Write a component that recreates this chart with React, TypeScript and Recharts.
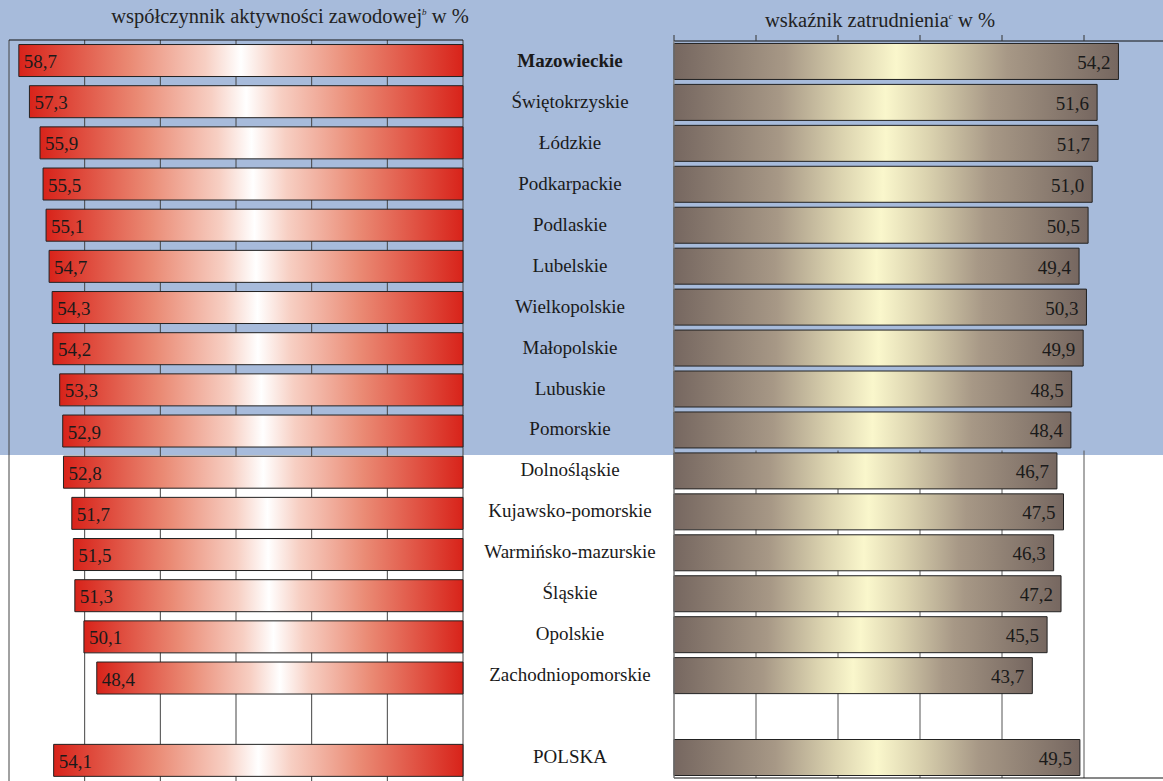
import { BarChart, Bar, XAxis, YAxis, CartesianGrid, LabelList, ReferenceArea } from 'recharts';

const regions = [
  'Mazowieckie',
  'Świętokrzyskie',
  'Łódzkie',
  'Podkarpackie',
  'Podlaskie',
  'Lubelskie',
  'Wielkopolskie',
  'Małopolskie',
  'Lubuskie',
  'Pomorskie',
  'Dolnośląskie',
  'Kujawsko-pomorskie',
  'Warmińsko-mazurskie',
  'Śląskie',
  'Opolskie',
  'Zachodniopomorskie',
  ' ',
  'POLSKA',
];

const activityRate = [58.7, 57.3, 55.9, 55.5, 55.1, 54.7, 54.3, 54.2, 53.3, 52.9, 52.8, 51.7, 51.5, 51.3, 50.1, 48.4, null, 54.1];
const employmentRate = [54.2, 51.6, 51.7, 51.0, 50.5, 49.4, 50.3, 49.9, 48.5, 48.4, 46.7, 47.5, 46.3, 47.2, 45.5, 43.7, null, 49.5];

const xTicks = [0, 10, 20, 30, 40, 50, 60];

const rows = regions.map((region, i) => ({
  region,
  activity: activityRate[i],
  employment: employmentRate[i],
}));

const BLUE = '#a7bbdb';
const FONT = "'Liberation Serif'";

const fmt = (v: number) => v.toFixed(1).replace('.', ',');

const NoTick = () => <g />;

const LeftValue = (props: any) => {
  const { x, y, width, height, value } = props;
  if (value == null) return null;
  const left = Math.min(x, x + width);
  return (
    <text x={left + 5} y={y + height / 2 + 1} dominantBaseline="central" fontSize={19} style={{ fontFamily: FONT }} fill="#1a1a1a">
      {fmt(value)}
    </text>
  );
};

const RightValue = (props: any) => {
  const { x, y, width, height, value } = props;
  if (value == null) return null;
  const right = Math.max(x, x + width);
  return (
    <text x={right - 8} y={y + height / 2 + 1} textAnchor="end" dominantBaseline="central" fontSize={19} style={{ fontFamily: FONT }} fill="#1a1a1a">
      {fmt(value)}
    </text>
  );
};

const RegionTick = (props: any) => {
  const { y, payload } = props;
  return (
    <text
      x={107}
      y={y - 1}
      textAnchor="middle"
      dominantBaseline="central"
      fontSize={19}
      style={{ fontFamily: FONT }}
      fontWeight={payload.value === 'Mazowieckie' ? 'bold' : 'normal'}
      fill="#1a1a1a"
    >
      {payload.value}
    </text>
  );
};

export default function App() {
  return (
    <div
      style={{
        position: 'fixed',
        left: 0,
        top: 0,
        width: 1163,
        height: 781,
        overflow: 'hidden',
        background: '#fff',
        fontFamily: FONT,
        color: '#222',
      }}
    >
      <div style={{ position: 'absolute', left: 0, top: 0, width: 1163, height: 455, background: BLUE }} />

      <div style={{ position: 'absolute', left: 90, top: 5, width: 400, textAlign: 'center', fontSize: 20.5, whiteSpace: 'nowrap', fontFamily: FONT }}>
        współczynnik aktywności zawodowej<sup style={{ fontSize: 9, fontStyle: 'italic' }}>b</sup> w %
      </div>
      <div style={{ position: 'absolute', left: 730, top: 9, width: 300, textAlign: 'center', fontSize: 20.5, whiteSpace: 'nowrap', fontFamily: FONT }}>
        wskaźnik zatrudnienia<sup style={{ fontSize: 9, fontStyle: 'italic' }}>c</sup> w %
      </div>

      {/* left chart: bars grow leftwards */}
      <div style={{ position: 'absolute', left: 0, top: 0 }}>
        <BarChart width={470} height={800} layout="vertical" data={rows} margin={{ top: 39, right: 7, bottom: 19, left: 9 }} barCategoryGap="11%">
          <defs>
            <linearGradient id="gradRed" x1="0" y1="0" x2="1" y2="0">
              <stop offset="0" stopColor="#d8231a" />
              <stop offset="0.25" stopColor="#ea8a74" />
              <stop offset="0.42" stopColor="#f7cfc3" />
              <stop offset="0.5" stopColor="#ffffff" />
              <stop offset="0.58" stopColor="#f7cfc3" />
              <stop offset="0.75" stopColor="#ea8a74" />
              <stop offset="1" stopColor="#d8231a" />
            </linearGradient>
          </defs>
          <CartesianGrid horizontal={false} stroke="#444" />
          <XAxis type="number" orientation="top" domain={[0, 60]} ticks={xTicks} reversed height={1} tick={NoTick} tickLine={false} axisLine={{ stroke: '#111' }} />
          <YAxis type="category" dataKey="region" width={0} tick={false} tickLine={false} axisLine={{ stroke: '#888' }} />
          <Bar dataKey="activity" fill="url(#gradRed)" stroke="#222" strokeWidth={1} isAnimationActive={false}>
            <LabelList dataKey="activity" content={LeftValue} />
          </Bar>
        </BarChart>
      </div>

      {/* right chart with region names in the middle */}
      <div style={{ position: 'absolute', left: 463, top: 0 }}>
        <BarChart width={720} height={800} layout="vertical" data={rows} margin={{ top: 40, right: 17, bottom: 21, left: 0 }} barCategoryGap="6%">
          <defs>
            <linearGradient id="gradTaupe" x1="0" y1="0" x2="1" y2="0">
              <stop offset="0" stopColor="#766760" />
              <stop offset="0.25" stopColor="#a79886" />
              <stop offset="0.4" stopColor="#dcd4b0" />
              <stop offset="0.5" stopColor="#faf7cc" />
              <stop offset="0.6" stopColor="#dcd4b0" />
              <stop offset="0.75" stopColor="#a79886" />
              <stop offset="1" stopColor="#766760" />
            </linearGradient>
          </defs>
          <CartesianGrid horizontal={false} stroke="#555" />
          <ReferenceArea y1="Mazowieckie" y2="Pomorskie" x1={0} x2={60} fill={BLUE} fillOpacity={1} stroke="none" />
          <XAxis type="number" orientation="top" domain={[0, 60]} ticks={xTicks} height={1} tick={NoTick} tickSize={6} tickLine={{ stroke: '#333' }} axisLine={{ stroke: '#111' }} />
          <XAxis xAxisId="bottom" type="number" orientation="bottom" domain={[0, 60]} ticks={xTicks} height={1} tick={NoTick} tickLine={false} axisLine={{ stroke: '#111' }} />
          <YAxis type="category" dataKey="region" width={211} tick={RegionTick} tickLine={false} axisLine={{ stroke: '#888' }} />
          <Bar dataKey="employment" fill="url(#gradTaupe)" stroke="#222" strokeWidth={1} isAnimationActive={false}>
            <LabelList dataKey="employment" content={RightValue} />
          </Bar>
        </BarChart>
      </div>
    </div>
  );
}
